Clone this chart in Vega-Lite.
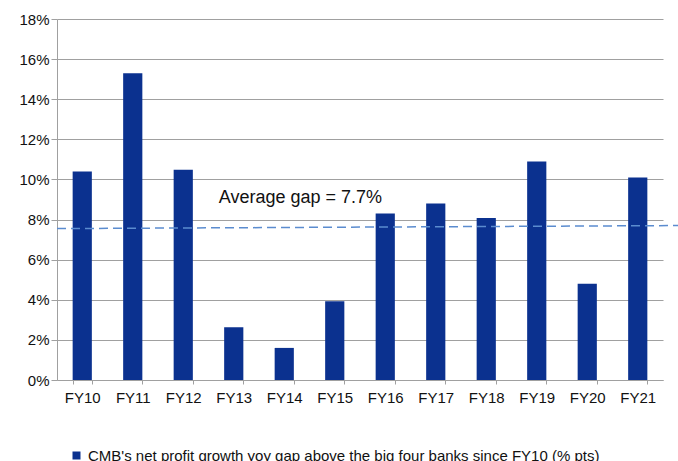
{
  "$schema": "https://vega.github.io/schema/vega-lite/v6.json",
  "width": 606,
  "height": 361,
  "autosize": "none",
  "padding": {"left": 57, "top": 19, "right": 15, "bottom": 81},
  "background": "white",
  "config": {
    "view": {"stroke": null},
    "font": "Liberation Sans"
  },
  "datasets": {
    "bars": [
      {"year": "FY10", "gap": 0.104, "series": "CMB's net profit growth yoy gap above the big four banks since FY10 (% pts)"},
      {"year": "FY11", "gap": 0.153, "series": "CMB's net profit growth yoy gap above the big four banks since FY10 (% pts)"},
      {"year": "FY12", "gap": 0.1048, "series": "CMB's net profit growth yoy gap above the big four banks since FY10 (% pts)"},
      {"year": "FY13", "gap": 0.0263, "series": "CMB's net profit growth yoy gap above the big four banks since FY10 (% pts)"},
      {"year": "FY14", "gap": 0.016, "series": "CMB's net profit growth yoy gap above the big four banks since FY10 (% pts)"},
      {"year": "FY15", "gap": 0.0393, "series": "CMB's net profit growth yoy gap above the big four banks since FY10 (% pts)"},
      {"year": "FY16", "gap": 0.083, "series": "CMB's net profit growth yoy gap above the big four banks since FY10 (% pts)"},
      {"year": "FY17", "gap": 0.088, "series": "CMB's net profit growth yoy gap above the big four banks since FY10 (% pts)"},
      {"year": "FY18", "gap": 0.0808, "series": "CMB's net profit growth yoy gap above the big four banks since FY10 (% pts)"},
      {"year": "FY19", "gap": 0.109, "series": "CMB's net profit growth yoy gap above the big four banks since FY10 (% pts)"},
      {"year": "FY20", "gap": 0.048, "series": "CMB's net profit growth yoy gap above the big four banks since FY10 (% pts)"},
      {"year": "FY21", "gap": 0.101, "series": "CMB's net profit growth yoy gap above the big four banks since FY10 (% pts)"}
    ],
    "avgline": [
      {"pos": 0, "value": 0.0755},
      {"pos": 1.0248, "value": 0.077}
    ],
    "note": [
      {"pos": 0.267, "value": 0.0885, "label": "Average gap = 7.7%"}
    ]
  },
  "layer": [
    {
      "data": {"name": "bars"},
      "mark": {"type": "bar", "color": "#0b318f"},
      "encoding": {
        "x": {
          "field": "year",
          "type": "nominal",
          "sort": null,
          "scale": {"paddingInner": 0.62, "paddingOuter": 0.31},
          "axis": {
            "title": null,
            "labelAngle": 0,
            "labelFontSize": 15,
            "labelColor": "#111111",
            "labelPadding": 6,
            "tickBand": "extent",
            "tickSize": 4,
            "tickColor": "#a0a0a0",
            "domainColor": "#a0a0a0",
            "grid": false
          }
        },
        "y": {
          "field": "gap",
          "type": "quantitative",
          "scale": {"domain": [0, 0.18], "nice": false},
          "axis": {
            "title": null,
            "format": ".0%",
            "values": [0, 0.02, 0.04, 0.06, 0.08, 0.1, 0.12, 0.14, 0.16, 0.18],
            "labelFontSize": 15,
            "labelColor": "#111111",
            "labelPadding": 2,
            "tickSize": 6,
            "tickColor": "#a0a0a0",
            "domainColor": "#a0a0a0",
            "gridColor": "#a0a0a0",
            "gridWidth": 1
          }
        },
        "color": {
          "field": "series",
          "type": "nominal",
          "scale": {"range": ["#0b318f"]},
          "legend": {
            "title": null,
            "orient": "none",
            "legendX": 12,
            "legendY": 429,
            "padding": 0,
            "symbolType": "square",
            "symbolSize": 64,
            "symbolStrokeWidth": 0,
            "labelFontSize": 15,
            "labelColor": "#111111",
            "labelOffset": 4,
            "labelLimit": 700
          }
        }
      }
    },
    {
      "data": {"name": "avgline"},
      "mark": {"type": "line", "color": "#5b8ccf", "strokeWidth": 1.5, "strokeDash": [9, 5], "clip": false},
      "encoding": {
        "x": {"field": "pos", "type": "quantitative", "scale": {"domain": [0, 1], "nice": false, "zero": false}, "axis": null},
        "y": {"field": "value", "type": "quantitative"}
      }
    },
    {
      "data": {"name": "note"},
      "mark": {"type": "text", "align": "left", "baseline": "alphabetic", "fontSize": 18, "color": "#111111"},
      "encoding": {
        "x": {"field": "pos", "type": "quantitative", "scale": {"domain": [0, 1], "nice": false, "zero": false}, "axis": null},
        "y": {"field": "value", "type": "quantitative"},
        "text": {"field": "label"}
      }
    }
  ],
  "resolve": {"scale": {"x": "independent"}}
}
